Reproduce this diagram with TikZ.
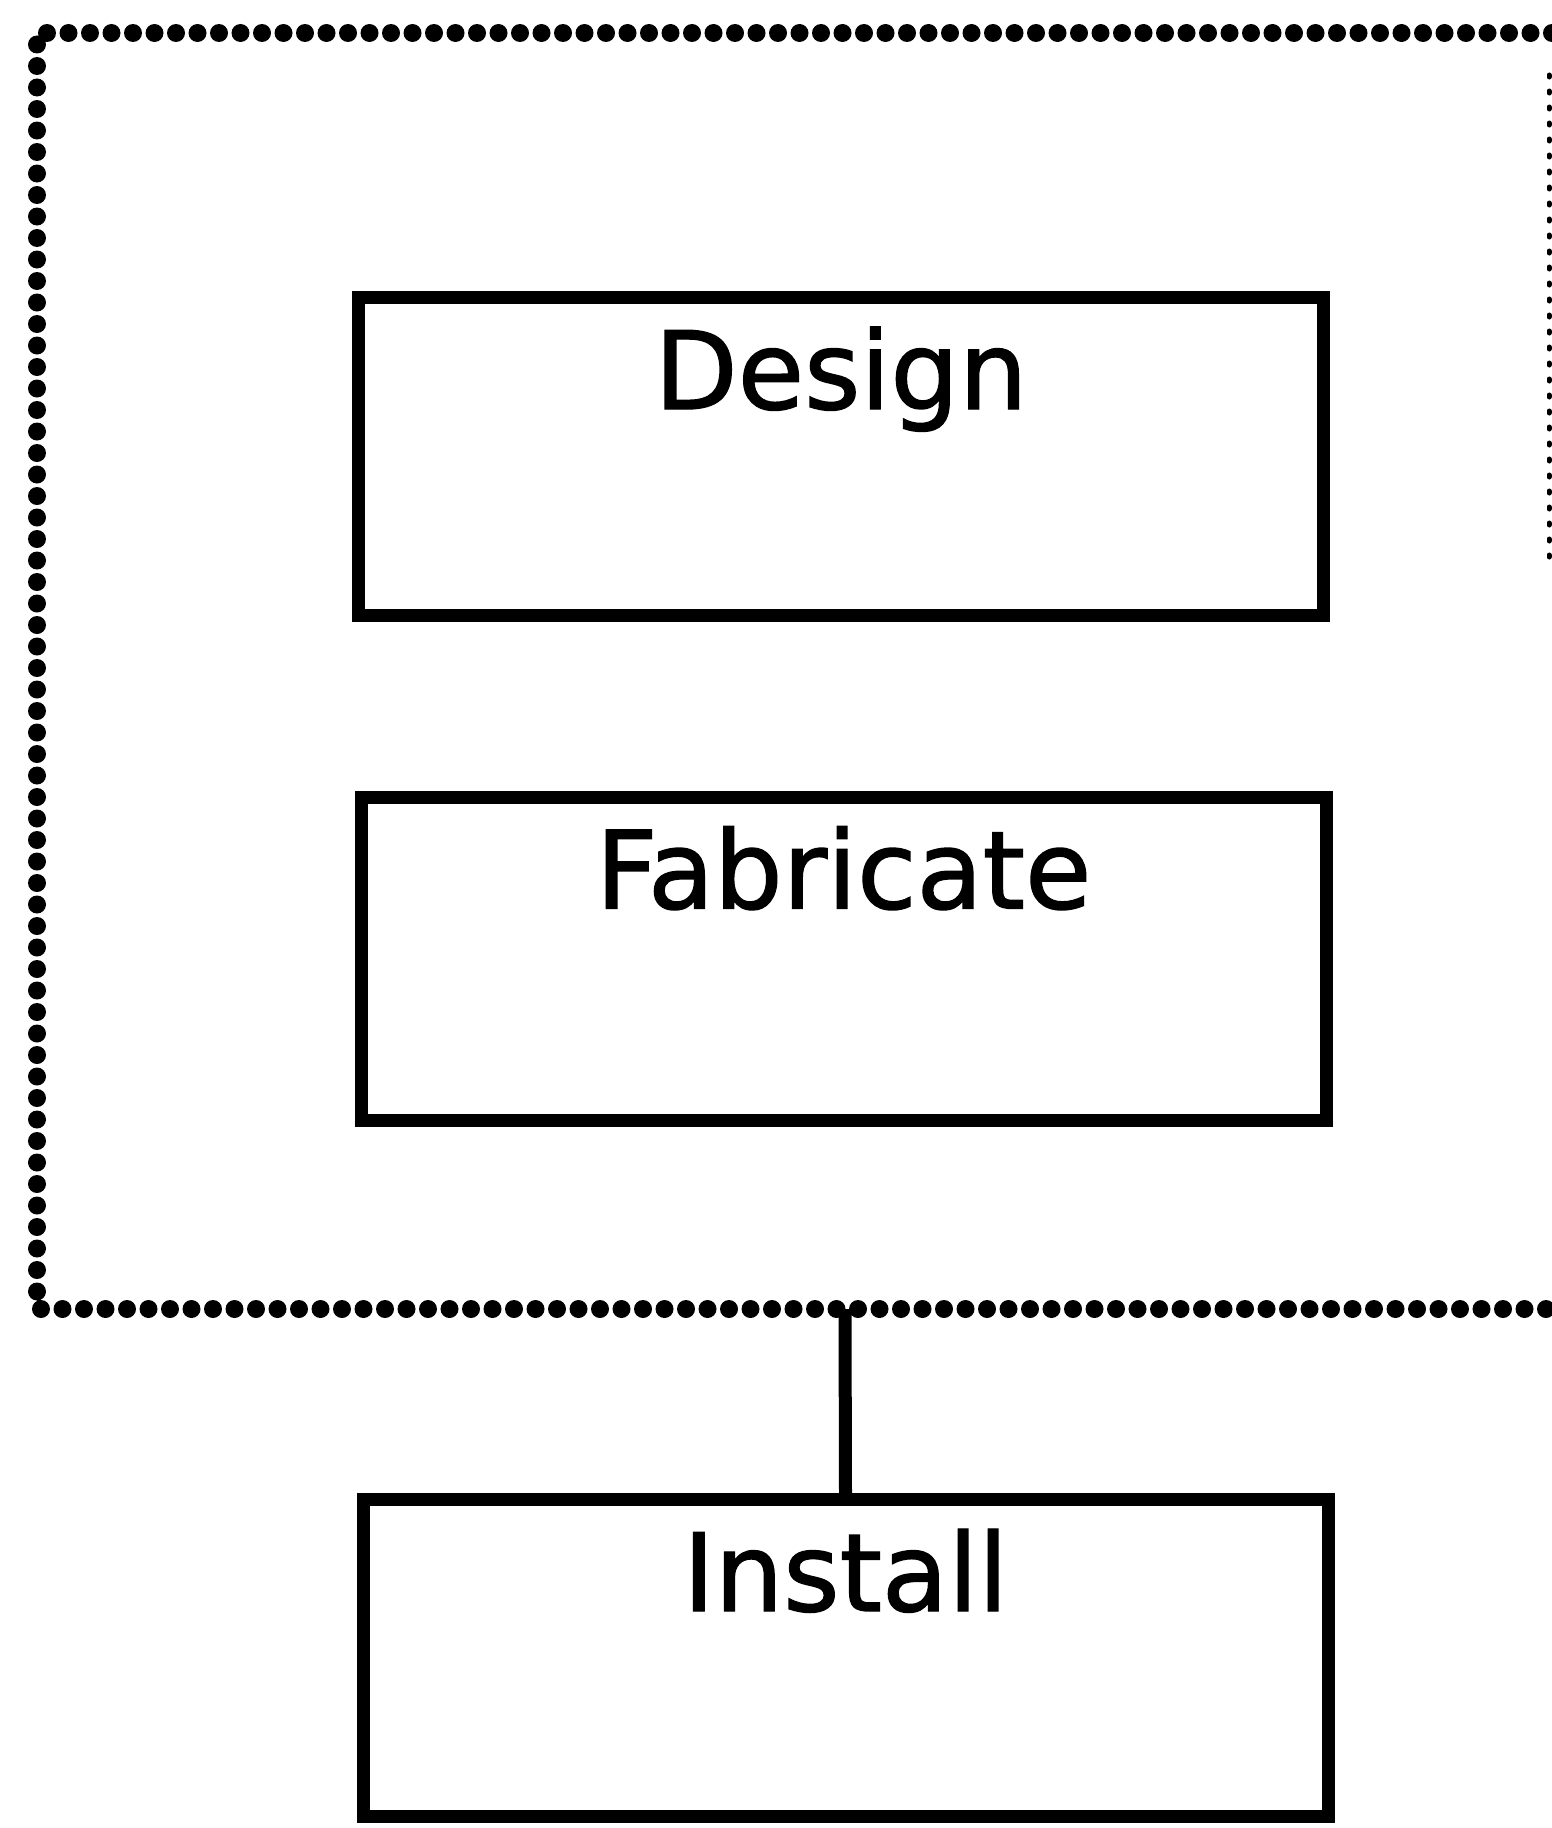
\documentclass[tikz,border=0pt]{standalone}
\usepackage{fontspec}
\setmainfont{DejaVu Sans}
\newfontfamily\lblfont{DejaVu Sans}[FakeBold=1.3]
\usetikzlibrary{calc}
\begin{document}
\begin{tikzpicture}[x=1pt,y=-1pt,
  box/.style={draw, line width=13pt, minimum width=965pt, inner sep=0pt},
  lbl/.style={anchor=base, font=\lblfont\fontsize{108}{114}\selectfont, inner sep=0pt},
  frameline/.style={line width=18pt, line cap=round, dash pattern=on 0pt off 21.5pt},
  thinframe/.style={line width=5pt, line cap=round, dash pattern=on 2pt off 14pt},
  conn/.style={line width=13pt}]
\useasboundingbox (0,0) rectangle (1552,1828);
\fill[white] (0,0) rectangle (1552,1828);
% frame
\coordinate (ftl) at (37,33);
\coordinate (ftr) at (1552,33);
\coordinate (fbl) at (37,1309);
\coordinate (fbr) at (1552,1309);
\coordinate (fbm) at (845,1309);
\draw[frameline] (ftr) -- (ftl) -- (fbl) -- (fbr);
\draw[thinframe] (1549,75) -- (1549,570);
% boxes
\node[box, minimum height=318pt] (design) at (841,456.5) {};
\node[lbl] (designt) at ($(design.north)+(0,118)$) {Design};
\node[box, minimum height=323pt] (fab) at (843.5,958.5) {};
\node[lbl] (fabt) at ($(fab.north)+(0,118)$) {Fabricate};
\node[box, minimum height=317pt] (install) at (845.5,1658) {};
\node[lbl] (installt) at ($(install.north)+(0,118)$) {Install};
\draw[conn] (install.north) -- (fbm);
\end{tikzpicture}
\end{document}
